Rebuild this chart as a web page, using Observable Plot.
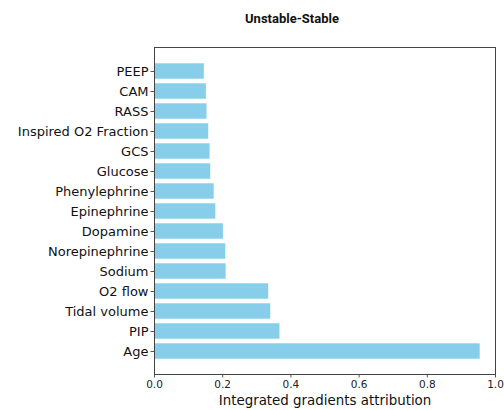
<!DOCTYPE html>
<html>
<head>
<meta charset="utf-8">
<script src="https://cdn.jsdelivr.net/npm/d3@7"></script>
<script src="https://cdn.jsdelivr.net/npm/@observablehq/plot@0.6"></script>
<style>
  html, body { margin: 0; padding: 0; background: #fff; }
  #chart svg { display: block; }
</style>
</head>
<body>
<div id="chart"></div>
<script>
const title = "Unstable-Stable";
const xLabel = "Integrated gradients attribution";
const features = ["PEEP", "CAM", "RASS", "Inspired O2 Fraction", "GCS", "Glucose",
  "Phenylephrine", "Epinephrine", "Dopamine", "Norepinephrine", "Sodium",
  "O2 flow", "Tidal volume", "PIP", "Age"];
const attributions = [0.147, 0.153, 0.155, 0.160, 0.164, 0.166,
  0.176, 0.181, 0.203, 0.210, 0.211,
  0.336, 0.342, 0.369, 0.956];
const xTicks = [0, 0.2, 0.4, 0.6, 0.8, 1.0];

const data = features.map((f, i) => ({feature: f, value: attributions[i]}));

const chart = Plot.plot({
  width: 504,
  height: 410,
  marginLeft: 154,
  marginRight: 9,
  marginTop: 47,
  marginBottom: 36,
  style: {fontFamily: "'DejaVu Sans'", background: "#fff"},
  x: {domain: [0, 1.0], ticks: xTicks, tickFormat: d3.format(".1f"), label: null},
  y: {domain: features, paddingInner: 0.2, paddingOuter: 0.7, label: null},
  marks: [
    Plot.barX(data, {x: "value", y: "feature", fill: "#87CEEB", stroke: "#ffffff", strokeWidth: 0.6}),
    Plot.axisX({ticks: xTicks, tickFormat: d3.format(".1f"), tickSize: 3.5, stroke: "#555", fill: "#222", fontSize: 10.5, tickPadding: 3, label: null}),
    Plot.axisY({tickSize: 3.5, stroke: "#555", fill: "#111", fontSize: 13, tickPadding: 2.5, label: null}),
    Plot.frame({stroke: "#444", strokeWidth: 1}),
    Plot.text([title], {frameAnchor: "top", dy: -34, dx: -33, fontSize: 13, fontWeight: "bold", fontFamily: "Roboto", fill: "#111"}),
    Plot.text([xLabel], {frameAnchor: "bottom", dy: 30, fontSize: 13.4, fill: "#111"})
  ]
});
document.getElementById("chart").appendChild(chart);
</script>
</body>
</html>
